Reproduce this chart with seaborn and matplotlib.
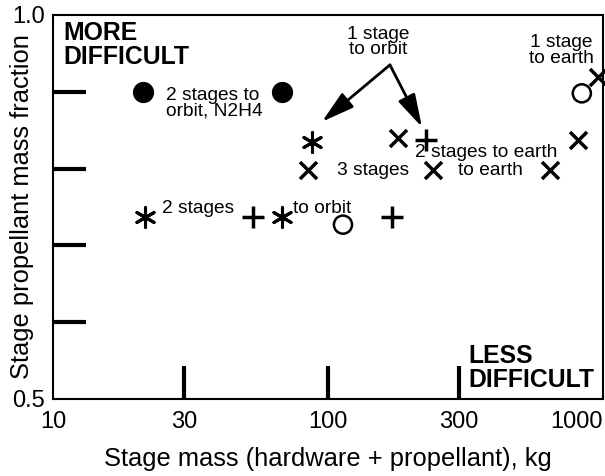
import matplotlib
matplotlib.use('Agg')
import matplotlib.pyplot as plt
import seaborn as sns
from matplotlib.ticker import FixedLocator, FixedFormatter, NullFormatter

# data (x: stage mass kg, y: propellant mass fraction)
filled_x = [21.2, 68.0]
filled_y = [0.900, 0.900]
open_x = [113.4, 838.0]
open_y = [0.727, 0.898]
aster_x = [21.6, 68.0, 87.5]
aster_y = [0.737, 0.737, 0.835]
plus_x = [53.4, 171.0, 227.0]
plus_y = [0.737, 0.737, 0.837]
cross_x = [84.6, 241.0, 641.0, 179.7, 811.0, 959.0]
cross_y = [0.798, 0.798, 0.798, 0.840, 0.837, 0.919]

x_ticks = [10, 30, 100, 300, 1000]
x_labels = ["10", "30", "100", "300", "1000"]
y_ticks = [0.5, 1.0]
y_labels = ["0.5", "1.0"]
y_minor = [0.6, 0.7, 0.8, 0.9]

sns.set_theme(style='white')
plt.rcParams['font.family'] = ['Liberation Sans', 'DejaVu Sans']
plt.rcParams['text.color'] = 'black'
plt.rcParams['axes.labelcolor'] = 'black'
plt.rcParams['axes.edgecolor'] = 'black'
plt.rcParams['xtick.color'] = 'black'
plt.rcParams['ytick.color'] = 'black'

fig = plt.figure(figsize=(6.05, 4.76), dpi=100)
ax = fig.add_axes([0.0876, 0.1618, 0.909, 0.8067])

sns.scatterplot(x=filled_x, y=filled_y, marker='o', s=200, color='black', edgecolor='black', ax=ax)
sns.scatterplot(x=open_x, y=open_y, marker='o', s=170, facecolors='none', edgecolor='black', linewidth=1.8, ax=ax)
sns.scatterplot(x=aster_x, y=aster_y, marker=(6, 2, 0), s=200, color='black', edgecolor='black', linewidth=2.2, ax=ax)
sns.scatterplot(x=plus_x, y=plus_y, marker='+', s=260, color='black', edgecolor='black', linewidth=2.5, ax=ax)
sns.scatterplot(x=cross_x, y=cross_y, marker='x', s=150, color='black', edgecolor='black', linewidth=2.5, ax=ax, clip_on=False)

ax.set_xscale('log')
ax.set_xlim(10, 1000)
ax.set_ylim(0.5, 1.0)

ax.xaxis.set_major_locator(FixedLocator(x_ticks))
ax.xaxis.set_major_formatter(FixedFormatter(x_labels))
ax.xaxis.set_minor_locator(FixedLocator([]))
ax.xaxis.set_minor_formatter(NullFormatter())
ax.yaxis.set_major_locator(FixedLocator(y_ticks))
ax.yaxis.set_major_formatter(FixedFormatter(y_labels))
ax.yaxis.set_minor_locator(FixedLocator(y_minor))
ax.yaxis.set_minor_formatter(NullFormatter())

ax.tick_params(axis='both', which='both', bottom=True, left=True, top=False, right=False)
ax.tick_params(axis='x', which='major', direction='in', length=24, width=3, color='black',
               pad=9, labelsize=17, labelcolor='black')
ax.tick_params(axis='y', which='major', length=0, pad=6, labelsize=17, labelcolor='black')
ax.tick_params(axis='y', which='minor', direction='in', length=24, width=3, color='black')
# no tick marks on the end ticks (they sit on the spines)
xt = ax.xaxis.get_major_ticks()
xt[0].tick1line.set_visible(False)
xt[-1].tick1line.set_visible(False)
ax.get_xticklabels()[-1].set_ha('right')

for sp in ax.spines.values():
    sp.set_linewidth(1.5)
    sp.set_color('black')

ax.set_xlabel("Stage mass (hardware + propellant), kg", fontsize=18.4, color='black')
ax.set_ylabel("Stage propellant mass fraction", fontsize=18.4, color='black')
ax.xaxis.set_label_coords(0.5, -0.125)
ax.yaxis.set_label_coords(-0.035, 0.5)

# region labels
ax.text(0.018, 0.985, "MORE\nDIFFICULT", transform=ax.transAxes, fontsize=17.8,
        fontweight='bold', va='top', ha='left', linespacing=1.0)
ax.text(0.755, 0.031, "LESS\nDIFFICULT", transform=ax.transAxes, fontsize=17.8,
        fontweight='bold', va='baseline', ha='left', linespacing=1.0)

# annotations
fs = 13.8
ax.text(25.8, 0.885, "2 stages to\norbit, N2H4", fontsize=fs, va='center', ha='left', linespacing=0.9)
ax.text(24.9, 0.742, "2 stages", fontsize=fs, va='baseline', ha='left')
ax.text(74.6, 0.742, "to orbit", fontsize=fs, va='baseline', ha='left')
ax.text(107.8, 0.792, "3 stages", fontsize=fs, va='baseline', ha='left')
ax.text(297, 0.792, "to earth", fontsize=fs, va='baseline', ha='left')
ax.text(207, 0.815, "2 stages to earth", fontsize=fs, va='baseline', ha='left')
ax.text(152, 0.965, "1 stage\nto orbit", fontsize=fs, va='center', ha='center', linespacing=0.9)
ax.text(706, 0.954, "1 stage\nto earth", fontsize=fs, va='center', ha='center', linespacing=0.9)

arrow = dict(arrowstyle='-|>,head_length=1.0,head_width=0.28', mutation_scale=20,
             lw=2, color='black', shrinkA=0, shrinkB=0)
ax.annotate('', xy=(95.1, 0.861), xytext=(168, 0.935), arrowprops=arrow)
ax.annotate('', xy=(219.7, 0.854), xytext=(168, 0.935), arrowprops=arrow)

fig.savefig("out.png", dpi=100)
